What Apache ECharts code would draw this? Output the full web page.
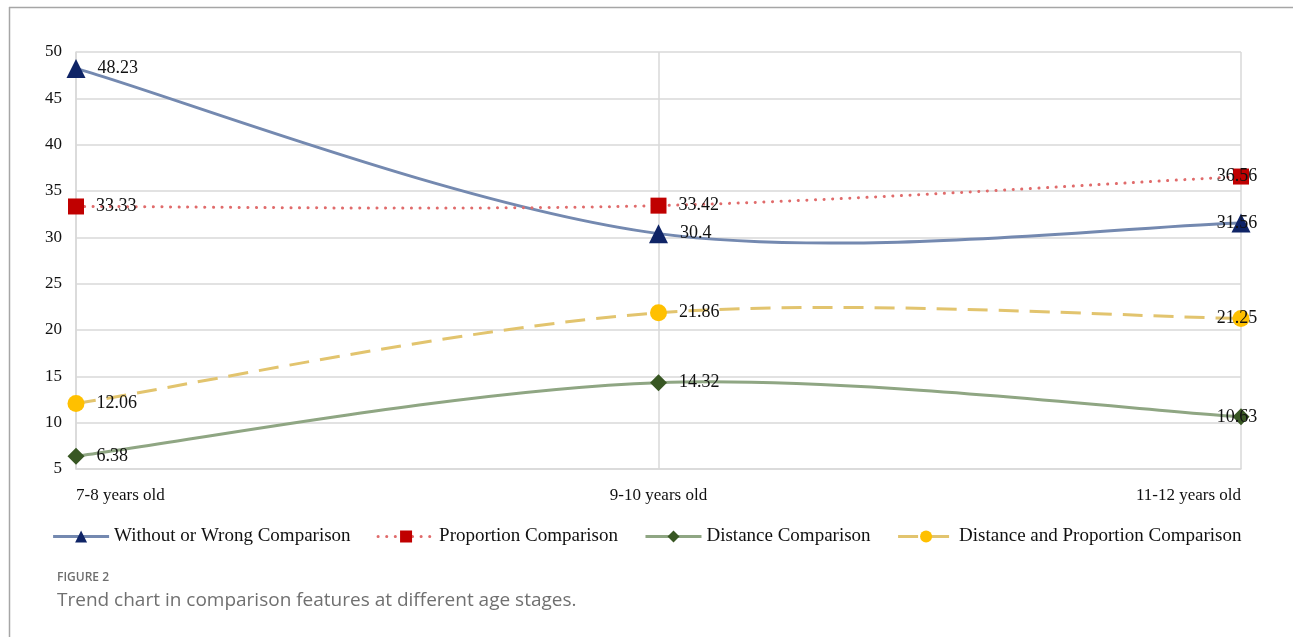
<!DOCTYPE html>
<html>
<head>
<meta charset="utf-8">
<script src="https://cdn.jsdelivr.net/npm/echarts@6/dist/echarts.min.js"></script>
<style>
html,body{margin:0;padding:0;background:#fff;}
#chart{width:1293px;height:637px;}
</style>
</head>
<body>
<div id="chart"></div>
<script>
const categories = ['7-8 years old', '9-10 years old', '11-12 years old'];
const seriesNames = ['Without or Wrong Comparison', 'Proportion Comparison', 'Distance Comparison', 'Distance and Proportion Comparison'];
const withoutWrong = [48.23, 30.4, 31.56];
const proportion = [33.33, 33.42, 36.56];
const distance = [6.38, 14.32, 10.63];
const distanceProportion = [12.06, 21.86, 21.25];
const yTicks = { min: 5, max: 50, interval: 5 };

const serif = '"Liberation Serif", "DejaVu Serif", serif';
const dataSets = [withoutWrong, proportion, distance, distanceProportion];

const styles = [
  { line: '#7489b0', dash: null, cap: 'butt', sym: 'triangle', symColor: '#0f2466', size: 19 },
  { line: '#e06b6b', dash: [0.1, 8.5], cap: 'round', sym: 'rect', symColor: '#c00000', size: 16 },
  { line: '#8fa683', dash: null, cap: 'butt', sym: 'diamond', symColor: '#385723', size: 17 },
  { line: '#e2c46e', dash: [20, 11], cap: 'butt', sym: 'circle', symColor: '#ffc000', size: 17 }
];

function mkData(arr) {
  return arr.map((v, i) => i === arr.length - 1
    ? { value: v, label: { position: 'inside', offset: [-4, 0] } }
    : v);
}

// Smooth curve (Catmull-Rom style, as in spreadsheet charts) through the points,
// converted to pixels with the chart's own scales.
function smoothPath(pts) {
  let d = 'M' + pts[0][0] + ' ' + pts[0][1];
  for (let i = 0; i < pts.length - 1; i++) {
    const p0 = pts[Math.max(i - 1, 0)], p1 = pts[i], p2 = pts[i + 1], p3 = pts[Math.min(i + 2, pts.length - 1)];
    const c1x = p1[0] + (p2[0] - p0[0]) / 6, c1y = p1[1] + (p2[1] - p0[1]) / 6;
    const c2x = p2[0] - (p3[0] - p1[0]) / 6, c2y = p2[1] - (p3[1] - p1[1]) / 6;
    d += ' C' + c1x + ' ' + c1y + ' ' + c2x + ' ' + c2y + ' ' + p2[0] + ' ' + p2[1];
  }
  return d;
}

const curveSeries = dataSets.map((arr, k) => ({
  type: 'custom',
  name: 'curve' + k,
  silent: true,
  z: 1,
  data: arr.map((v, i) => [i, v]),
  encode: { x: 0, y: 1 },
  renderItem: function (params, api) {
    if (params.dataIndex !== 0) return null;
    const pts = arr.map((v, i) => api.coord([i, v]));
    return {
      type: 'path',
      shape: { pathData: smoothPath(pts) },
      style: {
        fill: 'none',
        stroke: styles[k].line,
        lineWidth: 3,
        lineDash: styles[k].dash,
        lineCap: styles[k].cap
      }
    };
  }
}));

const pointSeries = seriesNames.map((name, k) => ({
  name,
  type: 'line',
  data: mkData(dataSets[k]),
  symbol: styles[k].sym,
  symbolSize: styles[k].size,
  itemStyle: { color: styles[k].symColor },
  lineStyle: { color: styles[k].line, width: 3, type: styles[k].dash || 'solid', cap: styles[k].cap, opacity: 0 },
  label: { show: true, position: 'right', distance: 12, fontFamily: serif, fontSize: 18, color: '#111' },
  z: 3 + k
}));

const chart = echarts.init(document.getElementById('chart'));
chart.setOption({
  animation: false,
  backgroundColor: '#fff',
  grid: { left: 76, right: 52, top: 52, bottom: 168, containLabel: false },
  legend: {
    bottom: 86,
    left: 'center',
    itemWidth: 56,
    itemHeight: 15,
    itemGap: 26,
    textStyle: { fontFamily: serif, fontSize: 19, color: '#111' },
    data: seriesNames.map(n => ({ name: n, lineStyle: { opacity: 1, width: 3 } }))
  },
  xAxis: {
    type: 'category',
    data: categories,
    boundaryGap: false,
    axisLine: { lineStyle: { color: '#d9d9d9', width: 1.5 } },
    axisTick: { show: false },
    axisLabel: { fontFamily: serif, fontSize: 17, color: '#111', margin: 18, alignMinLabel: 'left', alignMaxLabel: 'right' },
    splitLine: { show: true, lineStyle: { color: '#d9d9d9', width: 1.5 } }
  },
  yAxis: {
    type: 'value',
    min: yTicks.min, max: yTicks.max, interval: yTicks.interval,
    axisLine: { show: true, lineStyle: { color: '#d9d9d9', width: 1.5 } },
    axisTick: { show: false },
    axisLabel: { fontFamily: serif, fontSize: 17, color: '#111', margin: 14 },
    splitLine: { show: true, lineStyle: { color: '#d9d9d9', width: 1.5 } }
  },
  series: curveSeries.concat(pointSeries),
  graphic: [
    { type: 'line', shape: { x1: 9, y1: 7.5, x2: 1293, y2: 7.5 }, style: { stroke: '#a6a6a6', lineWidth: 1.5 } },
    { type: 'line', shape: { x1: 9.5, y1: 7, x2: 9.5, y2: 637 }, style: { stroke: '#a6a6a6', lineWidth: 1.5 } },
    { type: 'text', left: 57, top: 572, style: { text: 'FIGURE 2', font: '600 12px "Open Sans", sans-serif', fill: '#6e6e6e' } },
    { type: 'text', left: 57, top: 591, style: { text: 'Trend chart in comparison features at different age stages.', font: '19px "Open Sans", sans-serif', fill: '#707070' } }
  ]
});
</script>
</body>
</html>
